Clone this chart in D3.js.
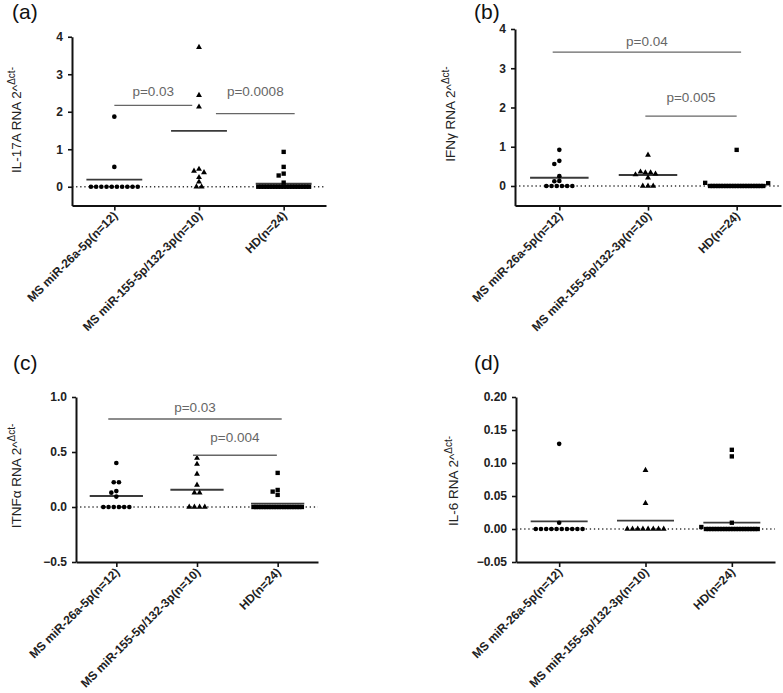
<!DOCTYPE html>
<html><head><meta charset="utf-8">
<script src="https://cdn.jsdelivr.net/npm/d3@7"></script>
<style>body{margin:0;background:#fff}svg{display:block}</style>
</head><body>
<script>
// ---------- data ----------
const categories = ["MS miR-26a-5p(n=12)", "MS miR-155-5p/132-3p(n=10)", "HD(n=24)"];
const markerTypes = ["circle", "triangle", "square"];

const il17aG1 = [1.87, 0.53, 0, 0, 0, 0, 0, 0, 0, 0, 0, 0];
const il17aG2 = [3.72, 2.44, 2.13, 0.47, 0.42, 0.38, 0.25, 0.13, 0, 0];
const il17aG3 = [0.93, 0.53, 0.35, 0.30, 0.11, 0, 0, 0, 0, 0, 0, 0, 0, 0, 0, 0, 0, 0, 0, 0, 0, 0, 0, 0];
const il17aCenters = [0.19, 1.49, 0.08];
const il17aTicks = [0, 1, 2, 3, 4];
const il17aP = [
  {text: "p=0.03", from: 0, to: 0.92, y: 2.17, ty: 2.41},
  {text: "p=0.0008", from: 1.2, to: 2.13, y: 1.95, ty: 2.43}
];

const ifngG1 = [0.92, 0.64, 0.56, 0.25, 0.13, 0.12, 0, 0, 0, 0, 0, 0];
const ifngG2 = [0.79, 0.36, 0.34, 0.34, 0.31, 0.29, 0.21, 0, 0, 0];
const ifngG3 = [0.92, 0.08, 0.07, 0, 0, 0, 0, 0, 0, 0, 0, 0, 0, 0, 0, 0, 0, 0, 0, 0, 0, 0, 0, 0];
const ifngCenters = [0.21, 0.28, 0.03];
const ifngTicks = [0, 1, 2, 3, 4];
const ifngP = [
  {text: "p=0.04", from: -0.075, to: 2.05, y: 3.41, ty: 3.57},
  {text: "p=0.005", from: 0.97, to: 2.0, y: 1.78, ty: 2.14}
];

const tnfG1 = [0.40, 0.225, 0.225, 0.145, 0.13, 0.095, 0, 0, 0, 0, 0, 0];
const tnfG2 = [0.445, 0.39, 0.30, 0.20, 0.13, 0.13, 0, 0, 0, 0];
const tnfG3 = [0.31, 0.155, 0.14, 0.11, 0, 0, 0, 0, 0, 0, 0, 0, 0, 0, 0, 0, 0, 0, 0, 0, 0, 0, 0, 0];
const tnfCenters = [0.10, 0.157, 0.03];
const tnfTicks = [-0.5, 0, 0.5, 1.0];
const tnfP = [
  {text: "p=0.03", from: -0.1, to: 2.05, y: 0.80, ty: 0.86},
  {text: "p=0.004", from: 0.95, to: 1.99, y: 0.47, ty: 0.594}
];

const il6G1 = [0.129, 0.0095, 0, 0, 0, 0, 0, 0, 0, 0, 0, 0];
const il6G2 = [0.089, 0.039, 0, 0, 0, 0, 0, 0, 0, 0];
const il6G3 = [0.12, 0.11, 0.0095, 0.003, 0, 0, 0, 0, 0, 0, 0, 0, 0, 0, 0, 0, 0, 0, 0, 0, 0, 0, 0, 0];
const il6Centers = [0.0117, 0.0126, 0.0096];
const il6Ticks = [-0.05, 0, 0.05, 0.10, 0.15, 0.20];
const il6P = [];

// ---------- layout ----------
const W = 783, H = 693;
const FONT = "'Liberation Sans', Arial, Helvetica, sans-serif";
const svg = d3.select("body").append("svg").attr("width", W).attr("height", H)
  .style("font-family", FONT);
svg.append("rect").attr("width", W).attr("height", H).attr("fill", "#fff");

const panels = [
  {tag: "(a)", tagX: 12, tagY: 19, x0: 72, x1: 326, yTop: 36.75, yBot: 205.5, domain: [-0.5, 4],
   ticks: il17aTicks, fmt: d3.format("d"), groups: [il17aG1, il17aG2, il17aG3], centers: il17aCenters,
   pvals: il17aP, label: "IL-17A RNA 2^", lx: 20.5, ly: 120},
  {tag: "(b)", tagX: 474, tagY: 19, x0: 515, x1: 781, yTop: 29, yBot: 205.6, domain: [-0.5, 4],
   ticks: ifngTicks, fmt: d3.format("d"), groups: [ifngG1, ifngG2, ifngG3], centers: ifngCenters,
   pvals: ifngP, label: "IFN\u03b3 RNA 2^", lx: 455, ly: 114},
  {tag: "(c)", tagX: 13, tagY: 370, x0: 76, x1: 318, yTop: 397, yBot: 562, domain: [-0.5, 1],
   ticks: tnfTicks, fmt: d3.format(".1f"), groups: [tnfG1, tnfG2, tnfG3], centers: tnfCenters,
   pvals: tnfP, label: "ITNF\u03b1 RNA 2^", lx: 20.5, ly: 476},
  {tag: "(d)", tagX: 474, tagY: 370, x0: 516, x1: 775, yTop: 397, yBot: 562, domain: [-0.05, 0.2],
   ticks: il6Ticks, fmt: d3.format(".2f"), groups: [il6G1, il6G2, il6G3], centers: il6Centers,
   pvals: il6P, label: "IL-6 RNA 2^", lx: 458, ly: 481}
];

function swarm(values, cx, y, step) {
  const sx = 4.6, sy = 4.0, sp = 5.2, maxW = 0.6 * step;
  const counts = d3.rollup(values, v => v.length, d => d);
  const placed = [];
  for (const [v, k] of counts) {
    if (k > 1) {
      const s = Math.min(sp, maxW / (k - 1));
      for (let i = 0; i < k; i++) placed.push({v, x: cx + (i - (k - 1) / 2) * s, y: y(v)});
    }
  }
  const singles = [...counts].filter(([v, k]) => k === 1).map(([v]) => v).sort((a, b) => b - a);
  for (const v of singles) {
    const py = y(v);
    const free = x => placed.every(p => !(Math.abs(p.x - x) < sx && Math.abs(p.y - py) < sy));
    let x = cx;
    for (let off = 0; off < 200; off += 0.5) {
      if (free(cx - off)) { x = cx - off; break; }
      if (free(cx + off)) { x = cx + off; break; }
    }
    placed.push({v, x, y: py});
  }
  return placed;
}

const symbolFor = {
  circle: d3.symbol().type(d3.symbolCircle).size(17),
  triangle: d3.symbol().type(d3.symbolTriangle).size(15),
  square: d3.symbol().type(d3.symbolSquare).size(19)
};

panels.forEach(p => {
  const g = svg.append("g");
  const x = d3.scalePoint().domain(categories).range([p.x0, p.x1]).padding(0.5);
  const xi = d3.scaleLinear().domain([0, 2]).range([x(categories[0]), x(categories[2])]);
  const y = d3.scaleLinear().domain(p.domain).range([p.yBot, p.yTop]);
  const step = x.step();

  // panel tag
  g.append("text").attr("x", p.tagX).attr("y", p.tagY).attr("font-size", 21)
    .attr("fill", "#111").text(p.tag);

  // zero dotted line
  g.append("line").attr("x1", p.x0).attr("x2", p.x1).attr("y1", y(0)).attr("y2", y(0))
    .attr("stroke", "#333").attr("stroke-width", 1.3).attr("stroke-dasharray", "1.3,2.8");

  // y axis
  const ya = g.append("g").attr("transform", `translate(${p.x0},0)`)
    .call(d3.axisLeft(y).tickValues(p.ticks).tickFormat(p.fmt).tickSize(4).tickPadding(5).tickSizeOuter(0));
  ya.select(".domain").attr("stroke", "#111").attr("stroke-width", 2);
  ya.selectAll(".tick line").attr("stroke", "#111").attr("stroke-width", 1.6);
  ya.selectAll(".tick text").attr("font-size", 12).attr("font-weight", "bold").attr("fill", "#222")
    .attr("font-family", FONT);

  // x axis
  const xa = g.append("g").attr("transform", `translate(0,${p.yBot})`)
    .call(d3.axisBottom(x).tickSize(5).tickSizeOuter(0).tickFormat(""));
  xa.select(".domain").attr("stroke", "#111").attr("stroke-width", 2);
  xa.selectAll(".tick line").attr("stroke", "#111").attr("stroke-width", 1.6);
  categories.forEach(c => {
    g.append("text")
      .attr("transform", `translate(${x(c) + 4},${p.yBot + 11}) rotate(-45)`)
      .attr("text-anchor", "end").attr("font-size", 12).attr("font-weight", "bold")
      .attr("fill", "#222").text(c);
  });

  // y label
  const lt = g.append("text").attr("transform", `translate(${p.lx},${p.ly}) rotate(-90)`)
    .attr("text-anchor", "middle").attr("font-size", 13.5).attr("fill", "#222");
  lt.append("tspan").text(p.label);
  lt.append("tspan").attr("dy", -6).attr("font-size", 10).text("\u0394ct-");

  // center lines
  p.centers.forEach((v, i) => {
    const cx = x(categories[i]);
    g.append("line").attr("x1", cx - 0.33 * step).attr("x2", cx + 0.33 * step)
      .attr("y1", y(v)).attr("y2", y(v)).attr("stroke", "#3a3a3a").attr("stroke-width", 1.8);
  });

  // points
  p.groups.forEach((vals, i) => {
    const cx = x(categories[i]);
    const pts = swarm(vals, cx, y, step);
    g.selectAll(null).data(pts).enter().append("path")
      .attr("d", symbolFor[markerTypes[i]]())
      .attr("transform", d => `translate(${d.x},${d.y})`)
      .attr("fill", "#000");
  });

  // p-value bars
  p.pvals.forEach(pv => {
    const xa1 = xi(pv.from), xa2 = xi(pv.to);
    g.append("line").attr("x1", xa1).attr("x2", xa2).attr("y1", y(pv.y)).attr("y2", y(pv.y))
      .attr("stroke", "#666").attr("stroke-width", 1.4);
    g.append("text").attr("x", (xa1 + xa2) / 2).attr("y", y(pv.ty)).attr("text-anchor", "middle")
      .attr("font-size", 13.5).attr("fill", "#666").text(pv.text);
  });
});
</script>
</body></html>
